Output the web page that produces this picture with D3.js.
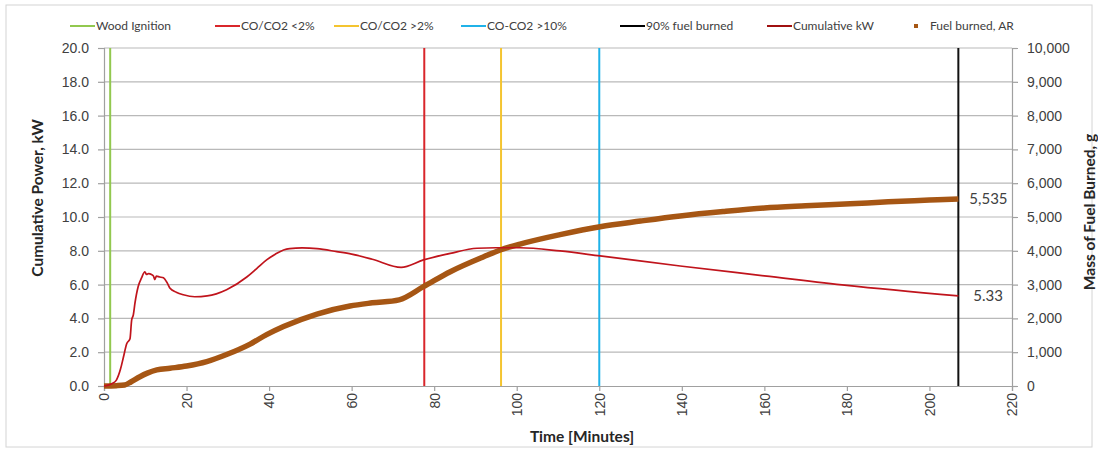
<!DOCTYPE html>
<html>
<head>
<meta charset="utf-8">
<script src="https://cdn.jsdelivr.net/npm/d3@7"></script>
<style>
  body { margin: 0; background: #fff; }
  svg { font-family: Lato, "Open Sans", "Liberation Sans", sans-serif; }
</style>
</head>
<body>
<svg id="chart" width="1098" height="453"></svg>
<script>
// ---- Data ----
const powerTime = [0, 1, 2, 3, 4, 4.7, 5.5, 6.3, 6.7, 7.1, 7.5, 8.3, 9.1, 9.9, 10.3, 10.8, 11.5, 12.0, 12.3, 12.7, 13.5, 14.4, 15.2, 16, 17.5, 19.2, 22, 25, 29.7, 34.6, 37, 39.4, 41.5, 43.5, 45, 48, 51.6, 56.4, 60, 65, 72, 77.4, 83.9, 90.4, 95, 100.8, 110.5, 120.2, 139.6, 160, 180, 207];
const powerKW   = [0, 0.05, 0.15, 0.35, 1.0, 1.7, 2.5, 2.8, 3.9, 4.2, 4.9, 5.9, 6.4, 6.76, 6.6, 6.65, 6.6, 6.5, 6.3, 6.5, 6.45, 6.4, 6.15, 5.78, 5.55, 5.4, 5.28, 5.33, 5.7, 6.45, 6.95, 7.46, 7.8, 8.05, 8.13, 8.17, 8.13, 7.95, 7.8, 7.5, 7.02, 7.46, 7.85, 8.15, 8.18, 8.18, 7.99, 7.7, 7.1, 6.52, 5.95, 5.33];

const fuelTime  = [0, 3, 5, 6.5, 8.7, 10.5, 12.8, 16, 20, 24.9, 29.7, 35.4, 39.4, 43.5, 51.6, 59.6, 65, 71.5, 77.4, 83.9, 92, 96, 100.8, 110.5, 120.2, 130, 139.6, 150, 160, 170, 180.8, 190, 200, 207];
const fuelGrams = [0, 10, 30, 120, 275, 380, 475, 525, 590, 720, 930, 1240, 1520, 1760, 2130, 2367, 2460, 2550, 2938, 3382, 3825, 4024, 4200, 4480, 4714, 4880, 5030, 5160, 5266, 5330, 5390, 5450, 5500, 5535];

const markerNames = ["Wood Ignition", "CO/CO2 <2%", "CO/CO2 >2%", "CO-CO2 >10%", "90% fuel burned"];
const markerTimes = [1.5, 77.6, 96.2, 120, 207];
const markerColors = ["#92c84f", "#d9262b", "#f4c430", "#20b2e8", "#111111"];

const leftTicks  = [0, 2, 4, 6, 8, 10, 12, 14, 16, 18, 20];
const rightTicks = [0, 1000, 2000, 3000, 4000, 5000, 6000, 7000, 8000, 9000, 10000];
const xTicks     = [0, 20, 40, 60, 80, 100, 120, 140, 160, 180, 200, 220];

const powerColor = "#c0141c";
const fuelColor = "#a65614";

// ---- Layout ----
const svg = d3.select("#chart");
const L = 104, R = 1012, T = 48, B = 386;

svg.append("rect").attr("x", 6).attr("y", 5).attr("width", 1086).attr("height", 442)
  .attr("fill", "#fff").attr("stroke", "#d4d4d4").attr("stroke-width", 1);

const x = d3.scaleLinear().domain([0, 220]).range([L, R]);
const yL = d3.scaleLinear().domain([0, 20]).range([B, T]);
const yR = d3.scaleLinear().domain([0, 10000]).range([B, T]);

// gridlines
svg.append("g").selectAll("line").data(leftTicks.slice(1)).join("line")
  .attr("x1", L).attr("x2", R).attr("y1", d => yL(d)).attr("y2", d => yL(d))
  .attr("stroke", "#b9b9b9").attr("stroke-width", 1.2);

// axes
const tickColor = "#a0a0a0";
const labelColor = "#404040";
const axL = svg.append("g").attr("transform", `translate(${L},0)`)
  .call(d3.axisLeft(yL).tickValues(leftTicks).tickFormat(d3.format(".1f")).tickSizeOuter(0).tickSize(6).tickPadding(9));
const axR = svg.append("g").attr("transform", `translate(${R},0)`)
  .call(d3.axisRight(yR).tickValues(rightTicks).tickFormat(d3.format(",")).tickSizeOuter(0).tickSize(6).tickPadding(9));
const axB = svg.append("g").attr("transform", `translate(0,${B})`)
  .call(d3.axisBottom(x).tickValues(xTicks).tickFormat(d3.format("d")).tickSizeOuter(0).tickSize(5));
[axL, axR, axB].forEach(a => {
  a.select(".domain").attr("stroke", tickColor).attr("stroke-width", 1.2);
  a.selectAll(".tick line").attr("stroke", tickColor).attr("stroke-width", 1.2);
  a.selectAll(".tick text").attr("fill", labelColor).style("font-size", "14px");
});
axB.selectAll(".tick text")
  .attr("transform", "rotate(-90)")
  .attr("text-anchor", "end")
  .attr("x", -7).attr("y", 0).attr("dy", "0.35em");

// vertical event lines
svg.append("g").selectAll("line").data(markerTimes).join("line")
  .attr("x1", d => x(d)).attr("x2", d => x(d)).attr("y1", T).attr("y2", B)
  .attr("stroke", (d, i) => markerColors[i]).attr("stroke-width", 2);

// series
const fuelData = fuelTime.map((t, i) => [t, fuelGrams[i]]);
const powerData = powerTime.map((t, i) => [t, powerKW[i]]);

svg.append("path").datum(fuelData)
  .attr("fill", "none").attr("stroke", fuelColor).attr("stroke-width", 5.5)
  .attr("d", d3.line().x(d => x(d[0])).y(d => yR(d[1])).curve(d3.curveMonotoneX));

svg.append("path").datum(powerData)
  .attr("fill", "none").attr("stroke", powerColor).attr("stroke-width", 1.7)
  .attr("d", d3.line().x(d => x(d[0])).y(d => yL(d[1])).curve(d3.curveMonotoneX));

// end labels
const lastF = fuelData[fuelData.length - 1];
const lastP = powerData[powerData.length - 1];
svg.append("text").attr("x", x(lastF[0]) + 11).attr("y", yR(lastF[1])).attr("dy", "0.35em")
  .attr("fill", labelColor).style("font-size", "15px").text(d3.format(",")(lastF[1]));
svg.append("text").attr("x", x(lastP[0]) + 15).attr("y", yL(lastP[1])).attr("dy", "0.35em")
  .attr("fill", labelColor).style("font-size", "15px").text(d3.format(".2f")(lastP[1]));

// axis titles
svg.append("text").attr("transform", `translate(38,198) rotate(-90)`)
  .attr("text-anchor", "middle").attr("dy", "0.35em").attr("font-weight", "bold").attr("fill", "#262626")
  .style("font-size", "15.5px").text("Cumulative Power, kW");
svg.append("text").attr("transform", `translate(1090,212) rotate(-90)`)
  .attr("text-anchor", "middle").attr("dy", "0.35em").attr("font-weight", "bold").attr("fill", "#262626")
  .style("font-size", "15.5px").text("Mass of Fuel Burned, g");
svg.append("text").attr("x", 582).attr("y", 437).attr("dy", "0.35em")
  .attr("text-anchor", "middle").attr("font-weight", "bold").attr("fill", "#262626")
  .style("font-size", "15.5px").text("Time [Minutes]");

// legend
const legY = 26;
const legItems = [
  { name: markerNames[0], color: markerColors[0], type: "line", x: 70 },
  { name: markerNames[1], color: markerColors[1], type: "line", x: 215 },
  { name: markerNames[2], color: markerColors[2], type: "line", x: 334 },
  { name: markerNames[3], color: markerColors[3], type: "line", x: 461 },
  { name: markerNames[4], color: "#000", type: "line", x: 620 },
  { name: "Cumulative kW", color: "#a01010", type: "line", x: 767 },
  { name: "Fuel burned, AR", color: fuelColor, type: "dot", x: 905 }
];
const leg = svg.append("g").selectAll("g").data(legItems).join("g")
  .attr("transform", d => `translate(${d.x},${legY})`);
leg.filter(d => d.type === "line").append("line")
  .attr("x1", 0).attr("x2", 25).attr("y1", 0).attr("y2", 0)
  .attr("stroke", d => d.color).attr("stroke-width", 2);
leg.filter(d => d.type === "dot").append("rect")
  .attr("x", 9).attr("y", -2).attr("width", 4).attr("height", 4).attr("fill", d => d.color);
leg.append("text").attr("x", d => d.type === "dot" ? 25 : 26).attr("y", 0).attr("dy", "0.35em")
  .attr("fill", labelColor).style("font-size", "12px").text(d => d.name);
</script>
</body>
</html>
